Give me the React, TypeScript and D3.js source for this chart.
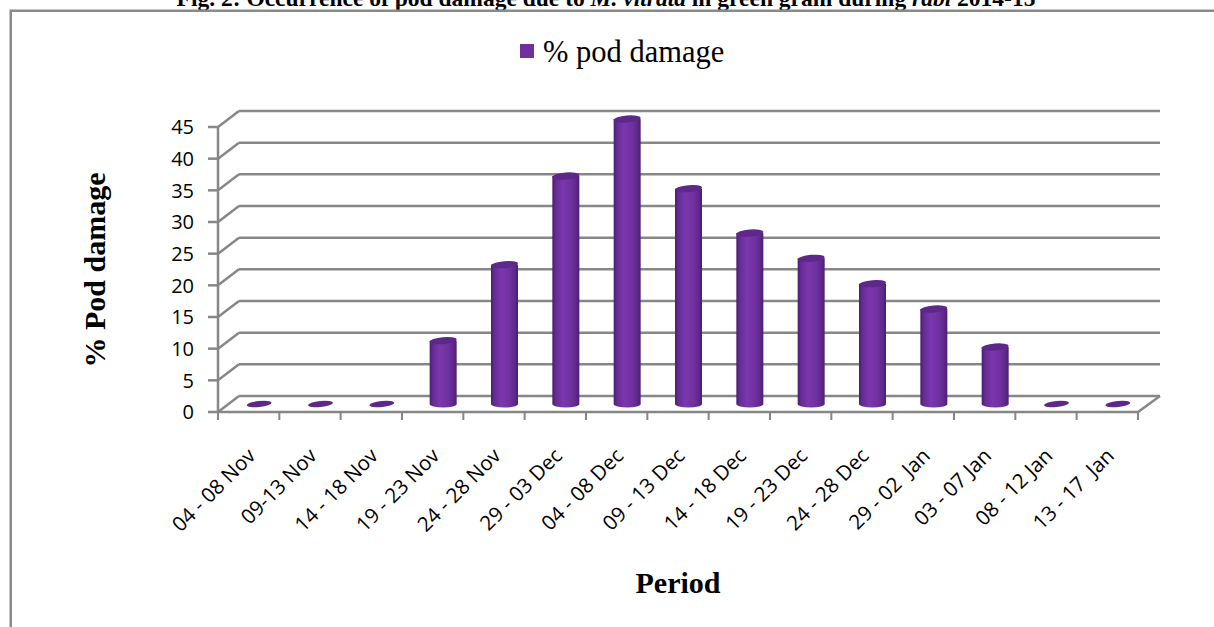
import React from 'react';
import * as d3 from 'd3';

const categories = [
  '04 - 08 Nov', '09-13 Nov', '14 - 18 Nov', '19 - 23 Nov', '24 - 28 Nov',
  '29 - 03 Dec', '04 - 08 Dec', '09 - 13 Dec', '14 - 18 Dec', '19 - 23 Dec',
  '24 - 28 Dec', '29 - 02  Jan', '03 - 07 Jan', '08 - 12 Jan', '13 - 17  Jan',
];
const podDamage = [0, 0, 0, 10, 22, 36, 45, 34, 27, 23, 19, 15, 9, 0, 0];
const yTickValues = [0, 5, 10, 15, 20, 25, 30, 35, 40, 45];
const seriesName = '% pod damage';
const yTitle = '% Pod damage';
const xTitle = 'Period';

const W = 1214;
const H = 627;
const DX = 21;
const DY = -16;
const GRID = '#878787';

export default function App() {
  const x = d3.scaleBand<string>().domain(categories).range([218, 1138]).padding(0);
  const y = d3.scaleLinear().domain([0, 45]).range([412, 127]);
  const bw = x.bandwidth();
  const rx = 13.5;
  const ry = 3.5;
  const sans = "'Open Sans', 'Liberation Sans', sans-serif";
  const serif = "'Liberation Serif', 'Times New Roman', serif";
  const x0 = x.range()[0];
  const x1 = x.range()[1];

  return (
    <svg width={W} height={H} style={{ position: 'absolute', left: 0, top: 0, background: '#fff' }}>
      <defs>
        <linearGradient id="cyl" x1="0" x2="1" y1="0" y2="0">
          <stop offset="0" stopColor="#4c1e70" />
          <stop offset="0.12" stopColor="#652b94" />
          <stop offset="0.38" stopColor="#7b37ae" />
          <stop offset="0.7" stopColor="#7030a0" />
          <stop offset="0.9" stopColor="#5c2788" />
          <stop offset="1" stopColor="#4a1d6c" />
        </linearGradient>
      </defs>
      {/* title (cut off at top, as in the reference) */}
      <text x={606} y={6} textAnchor="middle" fontFamily={serif} fontWeight="bold" fontSize={23.5} fill="#000">
        Fig. 2: Occurrence of pod damage due to <tspan fontStyle="italic">M. vitrata</tspan> in green gram during <tspan fontStyle="italic">rabi</tspan> 2014-15
      </text>
      {/* frame */}
      <path d={`M10.75,${H} L10.75,10.75 L${W},10.75`} fill="none" stroke="#8a8a8a" strokeWidth={2.5} />

      {/* gridlines: side wall diagonal + back wall */}
      {yTickValues.map((t) => (
        <g key={t}>
          <line x1={x0} y1={y(t)} x2={x0 + DX} y2={y(t) + DY} stroke={GRID} strokeWidth={2.5} />
          <line x1={x0 + DX} y1={y(t) + DY} x2={x1 + DX + 1} y2={y(t) + DY} stroke={GRID} strokeWidth={2.5} />
          <line x1={x0 - 10} y1={y(t)} x2={x0} y2={y(t)} stroke={GRID} strokeWidth={2.5} />
          <text x={x0 - 24} y={y(t)} dy="0.36em" textAnchor="end" fontFamily={sans} fontSize={20} fill="#000">
            {t}
          </text>
        </g>
      ))}
      {/* vertical axis */}
      <line x1={x0} y1={y(45)} x2={x0} y2={y(0)} stroke={GRID} strokeWidth={2.5} />
      {/* floor front & right edge */}
      <path d={`M${x0},${y(0)} L${x1},${y(0)} L${x1 + DX + 1},${y(0) + DY}`} fill="none" stroke={GRID} strokeWidth={2.5} />
      {/* category ticks */}
      {categories.map((c) => (
        <line key={'t' + c} x1={x(c)!} y1={y(0)} x2={x(c)!} y2={y(0) + 8} stroke={GRID} strokeWidth={2} />
      ))}
      <line x1={x1} y1={y(0)} x2={x1} y2={y(0) + 8} stroke={GRID} strokeWidth={2} />

      {/* cylinders */}
      {categories.map((c, i) => {
        const v = podDamage[i];
        const cx = x(c)! + bw / 2 + DX / 2;
        const base = y(0) + DY / 2;
        const top = y(v) + DY / 2;
        if (v === 0) {
          return (
            <ellipse key={'b' + c} cx={cx} cy={base} rx={12.5} ry={3} fill="#5e2888" transform={`rotate(-6 ${cx} ${base})`} />
          );
        }
        return (
          <g key={'b' + c}>
            <path
              d={`M${cx - rx},${top} L${cx - rx},${base} A${rx},${ry} 0 0 0 ${cx + rx},${base} L${cx + rx},${top} Z`}
              fill="url(#cyl)"
            />
            <ellipse cx={cx} cy={top} rx={rx} ry={ry} fill="#5e2888" transform={`rotate(-5 ${cx} ${top})`} />
          </g>
        );
      })}

      {/* category labels */}
      {categories.map((c) => {
        const cx = x(c)! + bw / 2;
        return (
          <text
            key={'l' + c}
            transform={`translate(${cx + 8},${y(0) + 45}) rotate(-45)`}
            textAnchor="end"
            fontFamily={sans}
            fontSize={20.5}
            fill="#000"
            style={{ whiteSpace: 'pre' }}
          >
            {c}
          </text>
        );
      })}

      {/* axis titles */}
      <text transform="translate(105,270) rotate(-90)" textAnchor="middle" fontFamily={serif} fontWeight="bold" fontSize={30} fill="#000">
        {yTitle}
      </text>
      <text x={678} y={593} textAnchor="middle" fontFamily={serif} fontWeight="bold" fontSize={30} fill="#000">
        {xTitle}
      </text>

      {/* legend */}
      <rect x={520} y={44} width={14} height={14} fill="#7030a0" />
      <text x={543} y={62} fontFamily={serif} fontSize={30.5} fill="#000">
        {seriesName}
      </text>
    </svg>
  );
}
